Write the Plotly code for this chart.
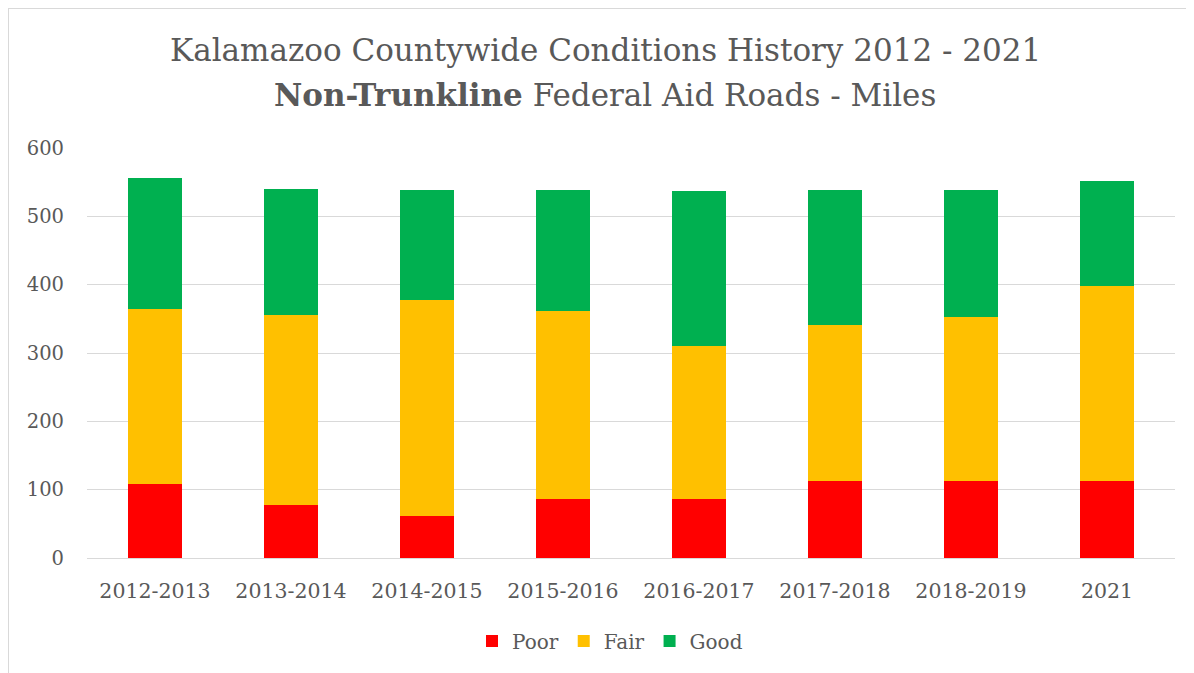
import plotly.graph_objects as go

categories = ["2012-2013", "2013-2014", "2014-2015", "2015-2016",
              "2016-2017", "2017-2018", "2018-2019", "2021"]
poor = [109, 77, 61, 86, 86, 112, 112, 113]
fair = [256, 278, 316, 276, 224, 229, 240, 285]
good = [191, 185, 162, 176, 227, 197, 186, 154]

series_names = ["Poor", "Fair", "Good"]
series_colors = ["#FF0000", "#FFC000", "#00B050"]
y_ticks = [0, 100, 200, 300, 400, 500, 600]

FONT = "DejaVu Serif"
TXT = "#595959"

fig = go.Figure()
for name, vals, col in zip(series_names, [poor, fair, good], series_colors):
    fig.add_trace(go.Bar(x=categories, y=vals, name=name,
                         marker=dict(color=col, line=dict(width=0))))

# page has an 8px body margin; work in figure coordinates
OFF = 8
W, H = 1194 - OFF, 673 - OFF
L, R, T, B = 87 - OFF, 19, 148 - OFF, 115
ph = H - T - B
pw = W - L - R

def py(p):  # reference page pixel y -> paper
    return (H - B - (p - OFF)) / ph

def px(p):  # reference page pixel x -> paper
    return ((p - OFF) - L) / pw

fig.update_layout(
    width=W, height=H,
    margin=dict(l=L, r=R, t=T, b=B),
    barmode="stack", bargap=0.6,
    plot_bgcolor="white", paper_bgcolor="white",
    font=dict(family=FONT, color=TXT, size=20),
    showlegend=True,
    legend=dict(orientation="h", x=px(610), xanchor="center", y=py(641), yanchor="middle",
                font=dict(size=20, color=TXT), traceorder="normal",
                itemwidth=30),
    xaxis=dict(showgrid=False, showline=False, ticks="", ticklabelstandoff=18,
               tickfont=dict(size=20.5, color=TXT)),
    yaxis=dict(range=[0, 600], tickvals=y_ticks, showgrid=True, gridcolor="#D9D9D9",
               gridwidth=1, zeroline=True, zerolinecolor="#D9D9D9", zerolinewidth=1,
               ticks="", ticklabelstandoff=22, tickfont=dict(size=19.5, color=TXT)),
    annotations=[
        dict(text="Kalamazoo Countywide Conditions History 2012 - 2021", xref="paper", yref="paper",
             x=px(605), y=py(50), xanchor="center", yanchor="middle", showarrow=False,
             font=dict(size=31, color=TXT, family=FONT)),
        dict(text="<b>Non-Trunkline</b> Federal Aid Roads - Miles", xref="paper", yref="paper",
             x=px(605), y=py(95), xanchor="center", yanchor="middle", showarrow=False,
             font=dict(size=31, color=TXT, family=FONT)),
    ],
    shapes=[
        dict(type="line", xref="paper", yref="paper", x0=px(8), x1=px(1194), y0=py(8), y1=py(8),
             line=dict(color="#D9D9D9", width=2), layer="below"),
        dict(type="line", xref="paper", yref="paper", x0=px(8), x1=px(8), y0=py(8), y1=py(673),
             line=dict(color="#D9D9D9", width=2), layer="below"),
    ],
)

fig.write_html("out.html")
